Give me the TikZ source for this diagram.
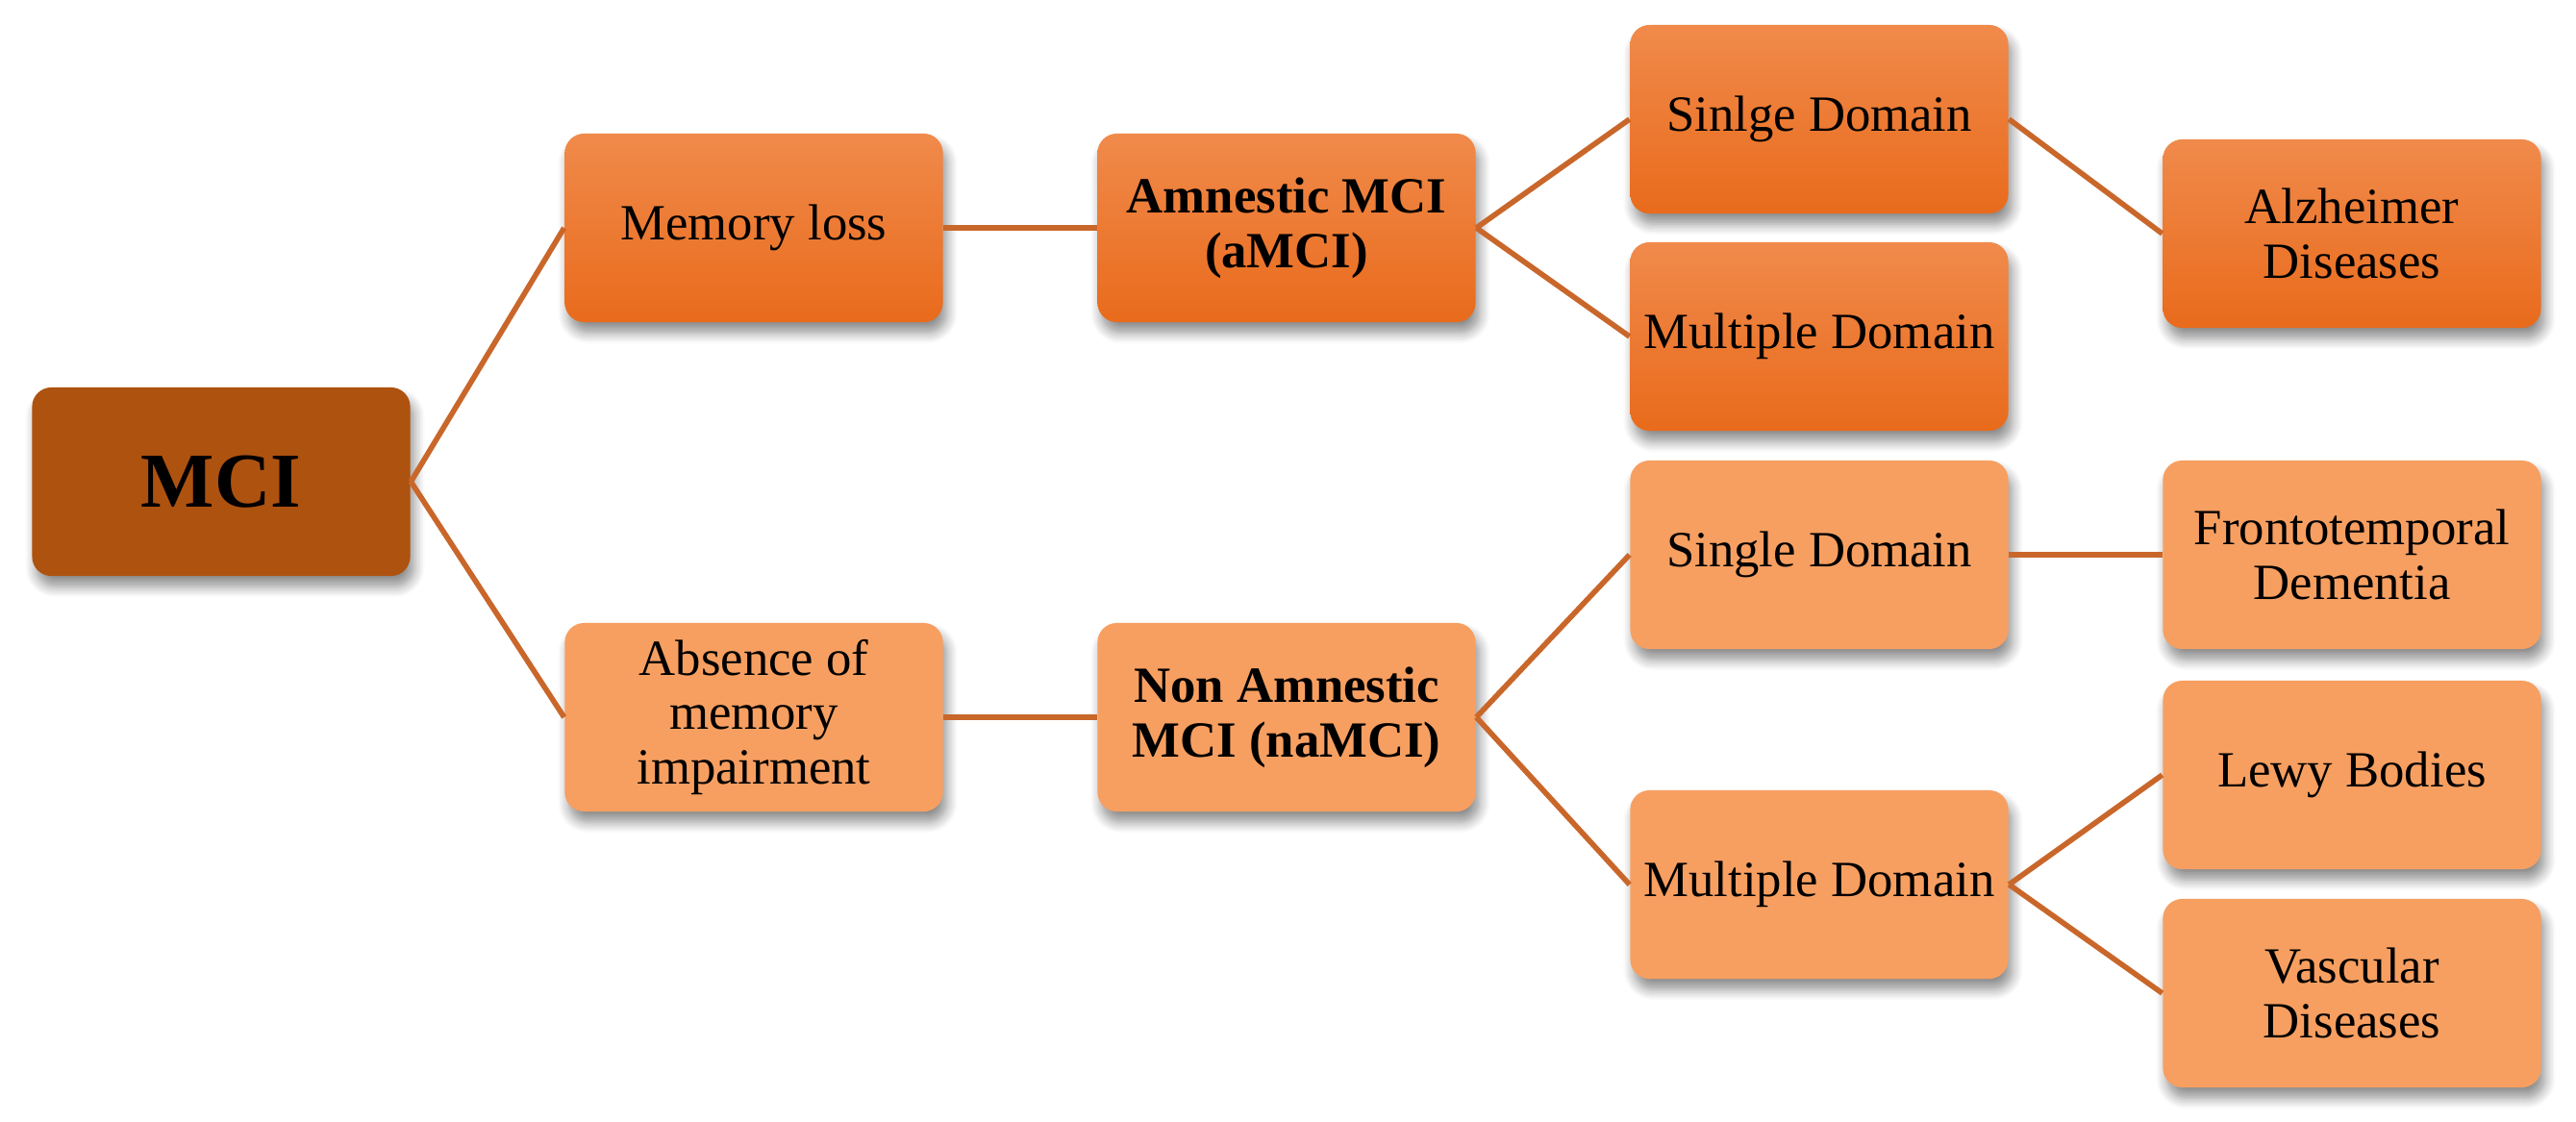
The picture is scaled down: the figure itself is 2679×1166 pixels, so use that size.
\documentclass[tikz,border=0pt]{standalone}
\usepackage{fontspec}
\setmainfont{Liberation Serif}
\usetikzlibrary{shadows.blur}
\definecolor{mcibrown}{HTML}{AE5210}
\definecolor{hottop}{HTML}{F08A4B}
\definecolor{hotbot}{HTML}{E96B1C}
\definecolor{lightor}{HTML}{F79F61}
\definecolor{linkc}{HTML}{C9672B}
\begin{document}
\begin{tikzpicture}[x=0.01cm,y=-0.01cm,
  box/.style={rounded corners=0.2cm, minimum width=3.93cm, minimum height=1.96cm,
    align=center, inner sep=2pt, text=black,
    font=\fontsize{15}{16.2}\selectfont,
    blur shadow={shadow xshift=0.4mm, shadow yshift=-1.1mm, shadow blur radius=1.1mm,
      shadow blur steps=8, shadow opacity=45}},
  root/.style={box, fill=mcibrown, font=\fontsize{23}{26}\selectfont\bfseries},
  hot/.style={box, top color=hottop, bottom color=hotbot},
  lite/.style={box, fill=lightor},
  link/.style={draw=linkc, line width=1.6pt}
]
\useasboundingbox (0,0) rectangle (2679,1166);

\node[root] (mci) at (230,501) {MCI};

\node[hot] (mem) at (784,237) {Memory loss};
\node[hot, font=\fontsize{15}{16.2}\selectfont\bfseries] (amci) at (1338,237) {Amnestic MCI\\(aMCI)};
\node[hot] (sd1) at (1892,124) {Sinlge Domain};
\node[hot] (md1) at (1892,350) {Multiple Domain};
\node[hot] (alz) at (2446,243) {Alzheimer\\Diseases};

\node[lite] (abs) at (784,746) {Absence of\\memory\\impairment};
\node[lite, font=\fontsize{15}{16.2}\selectfont\bfseries] (namci) at (1338,746) {Non Amnestic\\MCI (naMCI)};
\node[lite] (sd2) at (1892,577) {Single Domain};
\node[lite] (md2) at (1892,920) {Multiple Domain};
\node[lite] (ftd) at (2446,577) {Frontotemporal\\Dementia};
\node[lite] (lewy) at (2446,806) {Lewy Bodies};
\node[lite] (vasc) at (2446,1033) {Vascular\\Diseases};

\draw[link] (mci.east) -- (mem.west);
\draw[link] (mci.east) -- (abs.west);
\draw[link] (mem.east) -- (amci.west);
\draw[link] (abs.east) -- (namci.west);
\draw[link] (amci.east) -- (sd1.west);
\draw[link] (amci.east) -- (md1.west);
\draw[link] (sd1.east) -- (alz.west);
\draw[link] (namci.east) -- (sd2.west);
\draw[link] (namci.east) -- (md2.west);
\draw[link] (sd2.east) -- (ftd.west);
\draw[link] (md2.east) -- (lewy.west);
\draw[link] (md2.east) -- (vasc.west);
\end{tikzpicture}
\end{document}
